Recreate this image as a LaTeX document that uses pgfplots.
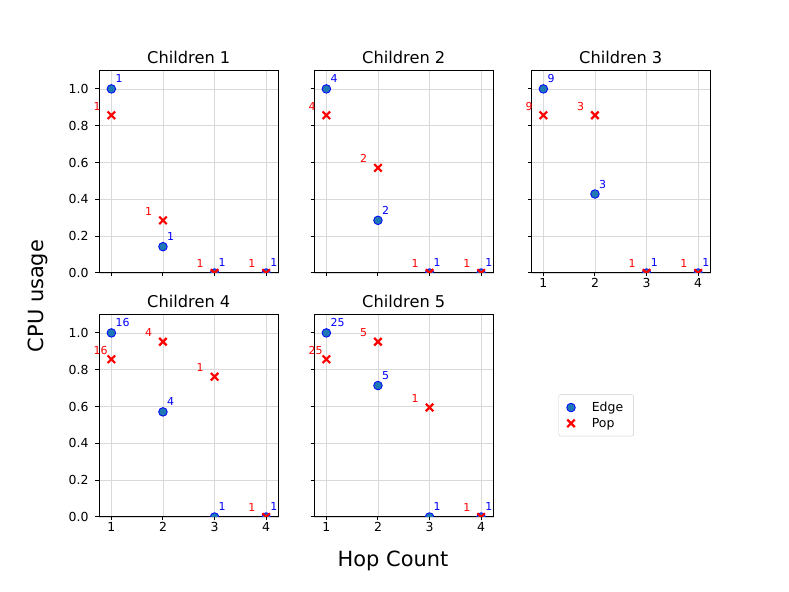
\documentclass[border=0pt]{standalone}
\usepackage{fontspec}
\setmainfont{DejaVu Sans}
\usepackage{pgfplots}
\usepackage{pgfplotstable}
\pgfplotsset{compat=1.18}
\definecolor{c0}{HTML}{1F77B4}

% x: hop count, edge/pop: CPU usage, el/pl: point labels
\pgfplotstableread{
x edge pop el pl
1 1.000 0.857 1 1
2 0.143 0.286 1 1
3 0.000 0.000 1 1
4 0.000 0.000 1 1
}\childA
\pgfplotstableread{
x edge pop el pl
1 1.000 0.857 4 4
2 0.286 0.571 2 2
3 0.000 0.000 1 1
4 0.000 0.000 1 1
}\childB
\pgfplotstableread{
x edge pop el pl
1 1.000 0.857 9 9
2 0.429 0.857 3 3
3 0.000 0.000 1 1
4 0.000 0.000 1 1
}\childC
\pgfplotstableread{
x edge pop el pl
1 1.000 0.857 16 16
2 0.571 0.952 4 4
3 0.000 0.762 1 1
4 0.000 0.000 1 1
}\childD
\pgfplotstableread{
x edge pop el pl
1 1.000 0.857 25 25
2 0.714 0.952 5 5
3 0.000 0.595 1 1
4 0.000 0.000 1 1
}\childE

\pgfplotsset{
  box/.style={scale only axis, width=179.5bp, height=202.5bp, anchor=south west,
    xmin=0.76, xmax=4.24, ymin=0, ymax=1.1},
  panel/.style={box,
    xtick={1,2,3,4}, ytick={0,0.2,0.4,0.6,0.8,1.0},
    grid=major, major grid style={draw=black!15, line width=0.8bp},
    axis line style={line width=1bp}, tick style={black, line width=1bp},
    tick align=outside, tick pos=left, major tick length=3.5bp,
    tick label style={font=\fontsize{12.5}{14}\selectfont},
    xticklabel style={yshift=1.5bp},
    /pgf/number format/assume math mode=true,
    yticklabel style={xshift=-3.5bp, /pgf/number format/.cd, fixed, fixed zerofill, precision=1},
    title style={font=\fontsize{16.3}{19}\selectfont, yshift=-2.5bp},
    clip marker paths=true},
  labels/.style={box, hide axis, clip=false},
  edge/.style={only marks, mark=*, mark size=4.3bp,
    mark options={fill=c0, draw=blue, line width=0.8bp}},
  pop/.style={only marks, mark=x, mark size=5.3bp, red,
    mark options={draw=red, line width=2.2bp}},
  lab/.style={only marks, mark=*, mark size=0pt, mark options={draw=none, fill=none},
    point meta=explicit symbolic, nodes near coords},
  elab/.style={lab, nodes near coords style={anchor=base west, xshift=4bp, yshift=6bp,
    inner sep=0pt, text=blue, font=\fontsize{11}{13}\selectfont}},
  plab/.style={lab, nodes near coords style={anchor=base west, xshift=-18bp, yshift=5bp,
    inner sep=0pt, text=red, font=\fontsize{11}{13}\selectfont}},
}

\begin{document}
\begin{tikzpicture}
\path[use as bounding box] (0,0) rectangle (789bp,592bp);

% row 1
\begin{axis}[panel, at={(99bp,319bp)}, title={Children 1}, xticklabels={}]
  \addplot[edge] table[x=x, y=edge] {\childA};
  \addplot[pop] table[x=x, y=pop] {\childA};
\end{axis}
\begin{axis}[labels, at={(99bp,319bp)}]
  \addplot[elab] table[x=x, y=edge, meta=el] {\childA};
  \addplot[plab] table[x=x, y=pop, meta=pl] {\childA};
\end{axis}

\begin{axis}[panel, at={(314bp,319bp)}, title={Children 2}, xticklabels={}, yticklabels={}]
  \addplot[edge] table[x=x, y=edge] {\childB};
  \addplot[pop] table[x=x, y=pop] {\childB};
\end{axis}
\begin{axis}[labels, at={(314bp,319bp)}]
  \addplot[elab] table[x=x, y=edge, meta=el] {\childB};
  \addplot[plab] table[x=x, y=pop, meta=pl] {\childB};
\end{axis}

\begin{axis}[panel, at={(531bp,319bp)}, title={Children 3}, yticklabels={}]
  \addplot[edge] table[x=x, y=edge] {\childC};
  \addplot[pop] table[x=x, y=pop] {\childC};
\end{axis}
\begin{axis}[labels, at={(531bp,319bp)}]
  \addplot[elab] table[x=x, y=edge, meta=el] {\childC};
  \addplot[plab] table[x=x, y=pop, meta=pl] {\childC};
\end{axis}

% row 2
\begin{axis}[panel, at={(99bp,75bp)}, title={Children 4}]
  \addplot[edge] table[x=x, y=edge] {\childD};
  \addplot[pop] table[x=x, y=pop] {\childD};
\end{axis}
\begin{axis}[labels, at={(99bp,75bp)}]
  \addplot[elab] table[x=x, y=edge, meta=el] {\childD};
  \addplot[plab] table[x=x, y=pop, meta=pl] {\childD};
\end{axis}

\begin{axis}[panel, at={(314bp,75bp)}, title={Children 5}, yticklabels={},
    legend style={at={(1.572,0.502)}, anchor=center, draw=black!20, rounded corners=2bp,
      fill=white, font=\fontsize{12.5}{14}\selectfont,
      inner xsep=8bp, inner ysep=5bp, nodes={inner sep=2.5bp},
      /tikz/every odd column/.append style={column sep=14bp}},
    legend cell align=left]
  \addplot[edge] table[x=x, y=edge] {\childE};
  \addplot[pop] table[x=x, y=pop] {\childE};
  \legend{Edge, Pop}
\end{axis}
\begin{axis}[labels, at={(314bp,75bp)}]
  \addplot[elab] table[x=x, y=edge, meta=el] {\childE};
  \addplot[plab] table[x=x, y=pop, meta=pl] {\childE};
\end{axis}

\node[font=\fontsize{21}{25}\selectfont] at (393bp,31bp) {Hop Count};
\node[font=\fontsize{21}{25}\selectfont, rotate=90] at (38bp,296bp) {CPU usage};
\end{tikzpicture}
\end{document}
